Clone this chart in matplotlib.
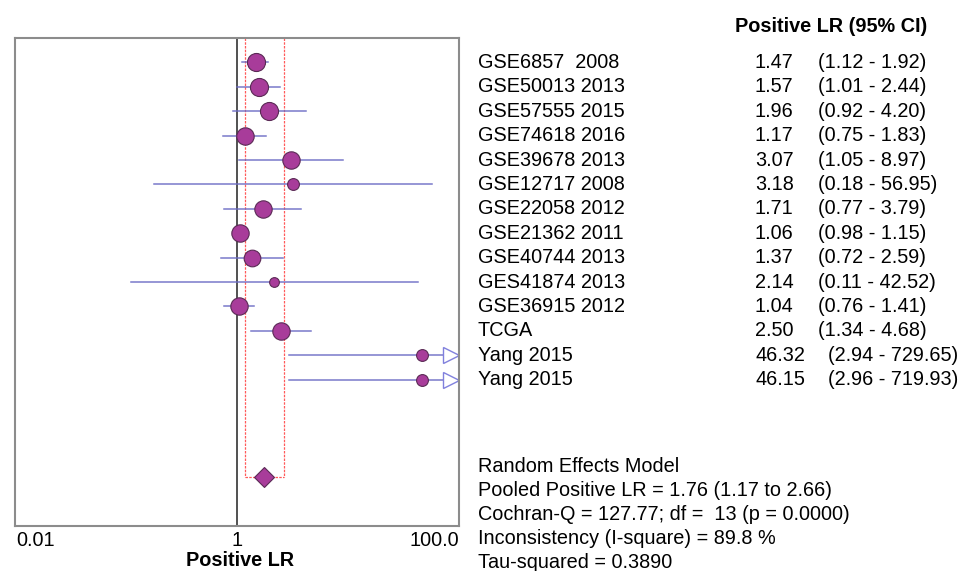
import numpy as np
import matplotlib.pyplot as plt
from matplotlib.transforms import blended_transform_factory

plt.rcParams['font.family'] = ['Liberation Sans', 'DejaVu Sans']

studies = ['GSE6857  2008', 'GSE50013 2013', 'GSE57555 2015', 'GSE74618 2016',
           'GSE39678 2013', 'GSE12717 2008', 'GSE22058 2012', 'GSE21362 2011',
           'GSE40744 2013', 'GES41874 2013', 'GSE36915 2012', 'TCGA',
           'Yang 2015', 'Yang 2015']
lr = [1.47, 1.57, 1.96, 1.17, 3.07, 3.18, 1.71, 1.06, 1.37, 2.14, 1.04, 2.50, 46.32, 46.15]
lo = [1.12, 1.01, 0.92, 0.75, 1.05, 0.18, 0.77, 0.98, 0.72, 0.11, 0.76, 1.34, 2.94, 2.96]
hi = [1.92, 2.44, 4.20, 1.83, 8.97, 56.95, 3.79, 1.15, 2.59, 42.52, 1.41, 4.68, 729.65, 719.93]
# marker size reflects study weight
msize = [13, 13, 13, 12.5, 12.5, 8.5, 12.5, 12.5, 12, 7, 12.5, 12.5, 8.5, 8.5]

pooled, pooled_lo, pooled_hi = 1.76, 1.17, 2.66
stats = ['Random Effects Model',
         'Pooled Positive LR = 1.76 (1.17 to 2.66)',
         'Cochran-Q = 127.77; df =  13 (p = 0.0000)',
         'Inconsistency (I-square) = 89.8 %',
         'Tau-squared = 0.3890']

FS = 14.3
W, H = 966, 571
fig = plt.figure(figsize=(W / 100, H / 100), dpi=100)
ax = fig.add_axes([15 / W, 1 - 526 / H, 444 / W, 488 / H])
ax.set_xscale('log')
xmin, xmax = 0.01, 100
ax.set_xlim(xmin, xmax)
ax.set_ylim(19, -1)
ax.set_yticks([])
ax.set_xticks([])
ax.minorticks_off()
for s in ax.spines.values():
    s.set_color('#8c8c8c')
    s.set_linewidth(1.5)

rows = np.arange(len(studies))
purple = '#a83c9a'
ciblue = '#6b6bc4'

# pooled CI box and null line
ax.plot([pooled_lo, pooled_lo], [-1, 17], color='#ff5a5a', ls=(0, (2, 1)), lw=0.9)
ax.plot([pooled_hi, pooled_hi], [-1, 17], color='#ff5a5a', ls=(0, (2, 1)), lw=0.9)
ax.plot([pooled_lo, pooled_hi], [17, 17], color='#ff5a5a', ls=(0, (2, 1)), lw=0.9)
ax.axvline(1, color='#333333', lw=1.2)

for i in rows:
    right = min(hi[i], xmax * 0.8)
    ax.plot([max(lo[i], xmin), right], [i, i], color=ciblue, lw=1.1, alpha=0.9)
    if hi[i] > xmax:
        # CI runs off the scale: open arrowhead at the right edge
        ax.plot(xmax * 0.855, i, marker='>', ms=11, mfc='white', mec='#8080dd',
                mew=1.0, clip_on=False)
    ax.plot(lr[i], i, 'o', ms=msize[i], mfc=purple, mec='#5a2a55', mew=0.8)

ax.plot(pooled, 17, 'D', ms=10, mfc=purple, mec='#5a2a55', mew=0.8)

# table text to the right of the axes
tr = blended_transform_factory(fig.transFigure, ax.transData)
for i in rows:
    ax.text(478 / W, i, studies[i], transform=tr, fontsize=FS, va='center', clip_on=False)
    ax.text(755 / W, i, f'{lr[i]:.2f}', transform=tr, fontsize=FS, va='center', clip_on=False)
    cix = 828 if hi[i] > 100 else 818
    ax.text(cix / W, i, f'({lo[i]:.2f} - {hi[i]:.2f})', transform=tr, fontsize=FS,
            va='center', clip_on=False)

fig.text(735 / W, 1 - 27 / H, 'Positive LR (95% CI)', fontsize=FS, fontweight='bold',
         va='center')

for k, line in enumerate(stats):
    fig.text(478 / W, 1 - (466 + 24 * k) / H, line, fontsize=FS, va='center')

# x axis labels
fig.text(16 / W, 1 - 541 / H, '0.01', fontsize=FS, va='center')
fig.text(237 / W, 1 - 541 / H, '1', fontsize=FS, va='center', ha='center')
fig.text(459 / W, 1 - 541 / H, '100.0', fontsize=FS, va='center', ha='right')
fig.text(240 / W, 1 - 560 / H, 'Positive LR', fontsize=FS, fontweight='bold',
         va='center', ha='center')

fig.savefig('out.png', dpi=100)
